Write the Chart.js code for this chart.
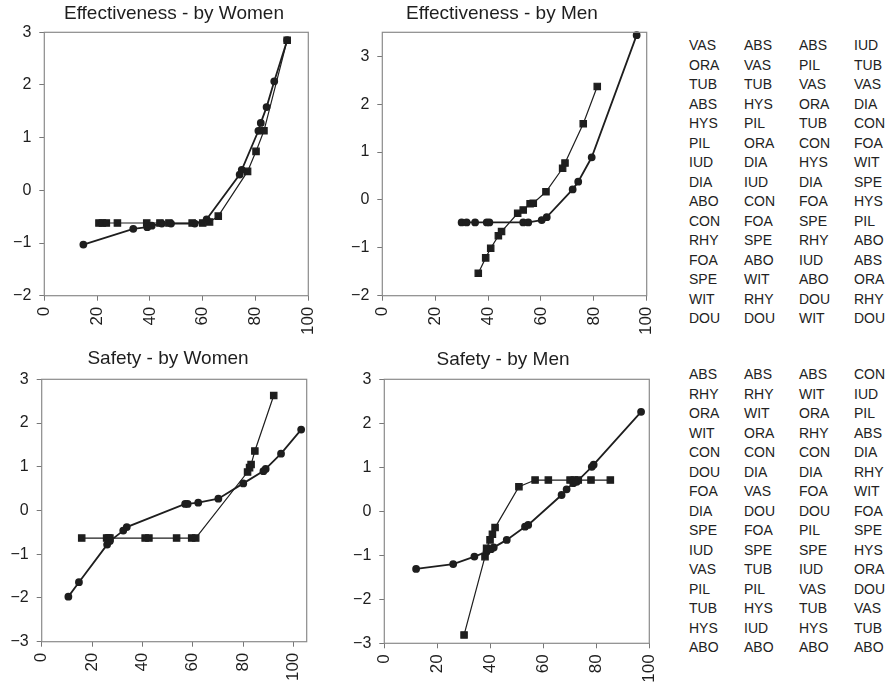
<!DOCTYPE html>
<html>
<head>
<meta charset="utf-8">
<script src="https://cdn.jsdelivr.net/npm/chart.js@4.4.0/dist/chart.umd.min.js"></script>
<style>
    body { margin: 0; background: #fff; }
    #wrap { position: relative; width: 891px; height: 690px; overflow: hidden; }
    canvas { position: absolute; }
    .title { position: absolute; width: 300px; text-align: center; font-family: "Liberation Sans", Arial, Helvetica, sans-serif; font-size: 19px; line-height: 22px; color: #1e1e1e; white-space: nowrap; }
    .ranks { position: absolute; display: flex; font-family: "Liberation Sans", Arial, Helvetica, sans-serif; font-size: 14px; color: #222; }
    .ranks div { width: 55px; line-height: 19.5px; }
</style>
</head>
<body>
<div id="wrap">
    <canvas id="effWomen" width="320" height="335" style="left:0px;top:0px"></canvas>
    <canvas id="effMen" width="320" height="335" style="left:340px;top:0px"></canvas>
    <canvas id="safWomen" width="318" height="350" style="left:0px;top:340px"></canvas>
    <canvas id="safMen" width="320" height="350" style="left:340px;top:340px"></canvas>
    <div class="title" style="left:24px;top:2px">Effectiveness - by Women</div>
    <div class="title" style="left:352px;top:2px">Effectiveness - by Men</div>
    <div class="title" style="left:18px;top:347px">Safety - by Women</div>
    <div class="title" style="left:353px;top:348px">Safety - by Men</div>
    <div class="ranks" id="ranksEff" style="left:689px;top:36px"></div>
    <div class="ranks" id="ranksSaf" style="left:689px;top:365px"></div>
</div>
<script>
document.addEventListener("DOMContentLoaded", function () {
    // Tick values
    const xTicks = [0, 20, 40, 60, 80, 100];
    const yTicksEff = [-2, -1, 0, 1, 2, 3];
    const yTicksSaf = [-3, -2, -1, 0, 1, 2, 3];

    // Effectiveness - by Women
    const effWomenCircX = [14.8, 33.7, 39.0, 40.7, 44.5, 48.0, 57.0, 61.5, 74.0, 74.8, 81.1, 82.0, 84.2, 87.1, 92.0];
    const effWomenCircY = [-1.03, -0.73, -0.70, -0.67, -0.63, -0.63, -0.63, -0.55, 0.30, 0.39, 1.13, 1.28, 1.58, 2.07, 2.85];
    const effWomenSqX = [20.7, 22.0, 23.5, 27.7, 38.8, 43.8, 47.2, 56.0, 60.0, 62.6, 65.9, 77.0, 80.2, 83.2, 92.0];
    const effWomenSqY = [-0.62, -0.62, -0.62, -0.62, -0.62, -0.62, -0.62, -0.62, -0.62, -0.60, -0.49, 0.36, 0.74, 1.13, 2.85];

    // Effectiveness - by Men
    const effMenCircX = [30.0, 31.9, 35.1, 39.5, 40.5, 53.3, 55.2, 60.3, 62.2, 72.0, 74.1, 79.2, 96.2];
    const effMenCircY = [-0.47, -0.47, -0.47, -0.47, -0.47, -0.47, -0.47, -0.42, -0.36, 0.22, 0.38, 0.89, 3.44];
    const effMenSqX = [36.3, 39.1, 41.0, 43.9, 45.1, 51.2, 53.3, 55.9, 57.1, 61.9, 68.2, 69.1, 76.0, 81.3];
    const effMenSqY = [-1.53, -1.21, -1.01, -0.75, -0.66, -0.28, -0.21, -0.08, -0.07, 0.17, 0.66, 0.77, 1.59, 2.37];

    // Safety - by Women
    const safWomenCircX = [10.6, 14.8, 26.0, 27.1, 32.4, 33.8, 57.0, 58.0, 62.2, 70.2, 80.1, 88.1, 89.0, 95.1, 103.1];
    const safWomenCircY = [-1.97, -1.64, -0.78, -0.70, -0.46, -0.38, 0.15, 0.15, 0.18, 0.27, 0.62, 0.90, 0.95, 1.30, 1.85];
    const safWomenSqX = [15.9, 25.8, 26.5, 27.1, 41.1, 42.6, 53.6, 59.6, 61.2, 81.8, 82.6, 83.2, 84.7, 92.2];
    const safWomenSqY = [-0.63, -0.63, -0.63, -0.63, -0.63, -0.63, -0.63, -0.63, -0.63, 0.88, 0.98, 1.05, 1.36, 2.63];

    // Safety - by Men
    const safMenCircX = [12.0, 26.0, 34.0, 38.6, 40.3, 41.3, 46.2, 53.1, 54.3, 66.9, 68.8, 71.3, 72.6, 78.3, 79.0, 96.9];
    const safMenCircY = [-1.31, -1.20, -1.03, -0.92, -0.86, -0.82, -0.65, -0.35, -0.31, 0.37, 0.50, 0.64, 0.67, 1.01, 1.06, 2.26];
    const safMenSqX = [30.1, 38.0, 38.6, 39.9, 40.8, 41.8, 50.8, 56.9, 61.9, 70.1, 71.7, 73.2, 78.0, 85.3];
    const safMenSqY = [-2.81, -1.03, -0.84, -0.65, -0.52, -0.37, 0.56, 0.71, 0.71, 0.71, 0.71, 0.71, 0.71, 0.71];

    // Rankings shown to the right (one list per column)
    const effRanks = [
        ['VAS', 'ORA', 'TUB', 'ABS', 'HYS', 'PIL', 'IUD', 'DIA', 'ABO', 'CON', 'RHY', 'FOA', 'SPE', 'WIT', 'DOU'],
        ['ABS', 'VAS', 'TUB', 'HYS', 'PIL', 'ORA', 'DIA', 'IUD', 'CON', 'FOA', 'SPE', 'ABO', 'WIT', 'RHY', 'DOU'],
        ['ABS', 'PIL', 'VAS', 'ORA', 'TUB', 'CON', 'HYS', 'DIA', 'FOA', 'SPE', 'RHY', 'IUD', 'ABO', 'DOU', 'WIT'],
        ['IUD', 'TUB', 'VAS', 'DIA', 'CON', 'FOA', 'WIT', 'SPE', 'HYS', 'PIL', 'ABO', 'ABS', 'ORA', 'RHY', 'DOU']
    ];
    const safRanks = [
        ['ABS', 'RHY', 'ORA', 'WIT', 'CON', 'DOU', 'FOA', 'DIA', 'SPE', 'IUD', 'VAS', 'PIL', 'TUB', 'HYS', 'ABO'],
        ['ABS', 'RHY', 'WIT', 'ORA', 'CON', 'DIA', 'VAS', 'DOU', 'FOA', 'SPE', 'TUB', 'PIL', 'HYS', 'IUD', 'ABO'],
        ['ABS', 'WIT', 'ORA', 'RHY', 'CON', 'DIA', 'FOA', 'DOU', 'PIL', 'SPE', 'IUD', 'VAS', 'TUB', 'HYS', 'ABO'],
        ['CON', 'IUD', 'PIL', 'ABS', 'DIA', 'RHY', 'WIT', 'FOA', 'SPE', 'HYS', 'ORA', 'DOU', 'VAS', 'TUB', 'ABO']
    ];

    const fontFamily = '"Liberation Sans", Arial, Helvetica, sans-serif';
    const ink = '#1e1e1e';

    // gray frame around each plot area
    const frame = {
        id: 'frame',
        afterDraw(chart) {
            const a = chart.chartArea;
            const ctx = chart.ctx;
            ctx.save();
            ctx.strokeStyle = '#8a8a8a';
            ctx.lineWidth = 1.2;
            ctx.strokeRect(a.left, a.top, a.right - a.left, a.bottom - a.top);
            ctx.restore();
        }
    };

    const toPoints = (xs, ys) => xs.map((x, i) => ({ x: x, y: ys[i] }));
    const minus = v => v < 0 ? '\u2212' + Math.abs(v) : String(v);

    function makePanel(id, circX, circY, sqX, sqY, yTicks, lay) {
        return new Chart(document.getElementById(id).getContext('2d'), {
            type: 'scatter',
            data: {
                datasets: [{
                    data: toPoints(circX, circY),
                    showLine: true,
                    borderColor: ink,
                    borderWidth: 1.8,
                    backgroundColor: ink,
                    pointStyle: 'circle',
                    pointRadius: 3,
                    clip: false
                }, {
                    data: toPoints(sqX, sqY),
                    showLine: true,
                    borderColor: ink,
                    borderWidth: 1.2,
                    backgroundColor: ink,
                    pointStyle: 'rect',
                    pointRadius: 4.5,
                    clip: false
                }]
            },
            plugins: [frame],
            options: {
                responsive: false,
                animation: false,
                devicePixelRatio: 1,
                layout: { padding: { left: 0, right: lay.padRight, top: lay.padTop, bottom: 0 } },
                scales: {
                    x: {
                        type: 'linear',
                        min: 0,
                        max: lay.xMax,
                        afterBuildTicks: s => { s.ticks = xTicks.map(v => ({ value: v })); },
                        // fixed box size; labels may hang over the edges
                        afterFit: s => { s.height = lay.xH; s.paddingLeft = 0; s.paddingRight = 0; },
                        border: { display: false },
                        grid: { drawOnChartArea: false, drawTicks: true, tickLength: 5, tickColor: '#777' },
                        ticks: {
                            autoSkip: false, minRotation: 90, maxRotation: 90, padding: 6,
                            color: ink, font: { family: fontFamily, size: 17 }
                        }
                    },
                    y: {
                        type: 'linear',
                        min: lay.yMin,
                        max: lay.yMax,
                        afterBuildTicks: s => { s.ticks = yTicks.map(v => ({ value: v })); },
                        afterFit: s => { s.width = lay.yW; s.paddingTop = 0; s.paddingBottom = 0; },
                        border: { display: false },
                        grid: { drawOnChartArea: false, drawTicks: true, tickLength: 5, tickColor: '#777' },
                        ticks: {
                            padding: 8, color: ink, font: { family: fontFamily, size: 16 },
                            callback: v => minus(v)
                        }
                    }
                },
                plugins: {
                    legend: { display: false },
                    tooltip: { enabled: false },
                    title: { display: false }
                }
            }
        });
    }

    makePanel('effWomen', effWomenCircX, effWomenCircY, effWomenSqX, effWomenSqY, yTicksEff,
        { padRight: 11.7, padTop: 32.3, yW: 44.3, xH: 39.3, xMax: 100, yMin: -2, yMax: 3 });
    makePanel('effMen', effMenCircX, effMenCircY, effMenSqX, effMenSqY, yTicksEff,
        { padRight: 13.3, padTop: 32.3, yW: 42.3, xH: 39.3, xMax: 100, yMin: -2, yMax: 3.5 });
    makePanel('safWomen', safWomenCircX, safWomenCircY, safWomenSqX, safWomenSqY, yTicksSaf,
        { padRight: 11.3, padTop: 39.3, yW: 41.7, xH: 48.3, xMax: 105.3, yMin: -3, yMax: 3 });
    makePanel('safMen', safMenCircX, safMenCircY, safMenSqX, safMenSqY, yTicksSaf,
        { padRight: 10.7, padTop: 39.3, yW: 44.3, xH: 46.7, xMax: 100, yMin: -3, yMax: 3 });

    // Rankings columns
    function fillRanks(id, cols) {
        const box = document.getElementById(id);
        cols.forEach(col => {
            const d = document.createElement('div');
            d.innerHTML = col.join('<br>');
            box.appendChild(d);
        });
    }
    fillRanks('ranksEff', effRanks);
    fillRanks('ranksSaf', safRanks);
});
</script>
</body>
</html>
